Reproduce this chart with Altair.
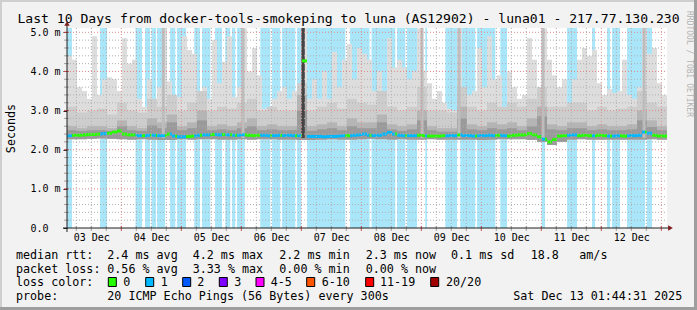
import altair as alt
import pandas as pd

# ---------------- values ----------------
# x: hours after 03 Dec 00:00 (plot spans 240 h); y: milliseconds
x_start, x_end = 2.28, 242.28
y_top = 5.11

day_labels = ["03 Dec", "04 Dec", "05 Dec", "06 Dec", "07 Dec",
              "08 Dec", "09 Dec", "10 Dec", "11 Dec", "12 Dec"]

# 2-hour bins (120)
smoke_top = [
    4.4, 4.3, 3.6, 3.5, 3.3, 4.9, 3.4, 3.8, 3.85, 3.8,
    3.5, 4.85, 4.2, 4.3, 3.3, 3.1, 3.8, 3.15, 3.6, 5.1,
    3.75, 3.3, 3.35, 4.9, 4.55, 4.45, 3.35, 3.6, 3.3, 4.8,
    3.7, 4.25, 4.9, 3.35, 3.6, 5.1, 4.0, 4.6, 3.9, 3.05,
    3.1, 3.3, 3.5, 3.6, 3.3, 3.5, 3.4, 5.11, 3.3, 3.8,
    3.3, 4.0, 3.3, 4.5, 3.6, 4.3, 4.7, 3.8, 4.6, 4.45,
    4.3, 3.5, 4.0, 3.3, 4.85, 4.1, 4.3, 4.1, 3.8, 4.0,
    5.1, 4.0, 3.7, 3.3, 3.5, 3.2, 3.05, 3.0, 5.1, 3.5,
    3.4, 3.5, 4.6, 3.6, 4.9, 3.8, 3.9, 3.05, 4.0, 3.6,
    3.3, 3.4, 4.85, 4.3, 3.45, 5.1, 4.3, 3.9, 3.6, 3.8,
    3.0, 3.8, 4.3, 4.6, 4.4, 4.55, 3.7, 3.4, 3.55, 3.45,
    3.5, 4.3, 3.4, 3.3, 3.6, 5.1, 4.45, 4.6, 3.7, 3.4]
median_ms = [
    2.36, 2.37, 2.37, 2.38, 2.39, 2.39, 2.40, 2.41, 2.42, 2.45,
    2.48, 2.40, 2.38, 2.38, 2.36, 2.36, 2.37, 2.37, 2.36, 2.36,
    2.40, 2.35, 2.33, 2.33, 2.34, 2.35, 2.37, 2.38, 2.38, 2.39,
    2.38, 2.39, 2.38, 2.37, 2.37, 2.38, 2.37, 2.36, 2.37, 2.37,
    2.36, 2.36, 2.37, 2.36, 2.37, 2.36, 2.36, 4.27, 2.34, 2.34,
    2.34, 2.33, 2.34, 2.34, 2.35, 2.36, 2.36, 2.37, 2.38, 2.40,
    2.37, 2.36, 2.37, 2.40, 2.44, 2.40, 2.37, 2.36, 2.36, 2.36,
    2.37, 2.36, 2.35, 2.35, 2.35, 2.36, 2.36, 2.36, 2.38, 2.36,
    2.36, 2.35, 2.36, 2.36, 2.37, 2.36, 2.37, 2.36, 2.35, 2.37,
    2.38, 2.38, 2.41, 2.38, 2.33, 2.27, 2.20, 2.26, 2.35, 2.36,
    2.37, 2.38, 2.36, 2.37, 2.36, 2.36, 2.37, 2.36, 2.35, 2.35,
    2.36, 2.35, 2.36, 2.36, 2.37, 2.45, 2.42, 2.37, 2.35, 2.35]

# 4-hour bins (60)
smoke_mid = [
    3.1, 2.95, 3.0, 3.05, 2.9, 3.2, 3.0, 2.95, 3.3, 3.1,
    3.4, 3.0, 3.2, 3.5, 3.0, 3.1, 3.05, 3.2, 3.3, 3.0,
    3.1, 3.0, 3.0, 3.7, 3.0, 3.1, 3.2, 3.05, 3.3, 3.2,
    3.15, 3.5, 3.1, 3.0, 3.1, 3.6, 3.0, 3.0, 2.95, 3.6,
    3.1, 3.0, 3.2, 3.1, 3.2, 3.1, 3.3, 3.6, 3.1, 3.1,
    3.2, 3.2, 3.0, 3.1, 3.0, 3.05, 3.1, 3.5, 3.2, 3.1]
smoke_dark = [
    2.6, 2.55, 2.6, 2.6, 2.55, 2.75, 2.6, 2.55, 2.8, 2.7,
    2.9, 2.6, 2.7, 3.0, 2.6, 2.65, 2.6, 2.7, 2.8, 2.6,
    2.65, 2.6, 2.6, 3.4, 2.6, 2.65, 2.7, 2.6, 2.8, 2.7,
    2.7, 2.9, 2.65, 2.6, 2.65, 3.0, 2.6, 2.55, 2.55, 3.1,
    2.65, 2.6, 2.7, 2.65, 2.7, 2.6, 2.8, 3.1, 2.65, 2.6,
    2.7, 2.7, 2.6, 2.65, 2.6, 2.6, 2.65, 3.0, 2.75, 2.6]
smoke_core = [
    2.5, 2.48, 2.5, 2.5, 2.48, 2.6, 2.5, 2.48, 2.62, 2.55,
    2.7, 2.5, 2.55, 2.75, 2.5, 2.52, 2.5, 2.55, 2.6, 2.5,
    2.52, 2.5, 2.5, 3.0, 2.48, 2.52, 2.55, 2.5, 2.6, 2.55,
    2.55, 2.7, 2.52, 2.48, 2.52, 2.75, 2.5, 2.46, 2.46, 2.8,
    2.52, 2.5, 2.55, 2.52, 2.55, 2.5, 2.6, 2.85, 2.52, 2.5,
    2.55, 2.55, 2.5, 2.52, 2.5, 2.5, 2.52, 2.75, 2.58, 2.5]
smoke_low = [
    2.27, 2.27, 2.28, 2.29, 2.28, 2.27, 2.26, 2.27, 2.26, 2.25,
    2.25, 2.27, 2.26, 2.27, 2.27, 2.26, 2.26, 2.27, 2.26, 2.27,
    2.27, 2.26, 2.26, 2.25, 2.25, 2.26, 2.27, 2.26, 2.26, 2.27,
    2.28, 2.27, 2.26, 2.27, 2.26, 2.26, 2.27, 2.26, 2.26, 2.26,
    2.26, 2.25, 2.26, 2.27, 2.27, 2.27, 2.25, 2.20, 2.12, 2.20,
    2.26, 2.27, 2.26, 2.26, 2.26, 2.26, 2.26, 2.26, 2.27, 2.26]

# periods with 1/20 packet loss (hours)
loss_start = [2.28, 15.5, 29.7, 33.5, 36.1, 38.3, 43.5, 46.3, 53.2, 56.3,
              61.5, 65.6, 68.3, 70.3, 79.6, 84.3, 88.3, 94.3, 98.3, 115.5,
              124.1, 134.3, 138.3, 145.6, 153.6, 159.6, 166.3, 175.6, 192.1,
              202.3, 212.3, 218.3, 220.3, 226.3, 234.2]
loss_end = [4.3, 18.3, 32.3, 35.5, 37.9, 41.5, 45.6, 49.9, 55.5, 59.6,
            64.3, 67.6, 69.6, 73.4, 83.6, 87.6, 93.6, 96.0, 113.6, 123.3,
            133.6, 137.6, 142.3, 146.3, 158.3, 165.6, 173.6, 178.3, 193.5,
            206.3, 213.5, 219.5, 223.5, 233.5, 236.3]

# dense smoke columns (hours, top in ms, 1 = very dark)
spike_start = [96.0, 40.2, 72.1, 143.7, 158.5, 192.1, 232.5]
spike_end = [97.4, 41.4, 73.3, 144.9, 159.7, 193.3, 233.7]
spike_top = [5.11, 5.11, 5.11, 5.11, 5.11, 5.11, 5.11]
spike_dark = [1, 0, 0, 0, 0, 0, 0]

legend_rows = [
    ["median rtt:", "2.4 ms avg", "4.2 ms max", "2.2 ms min", "2.3 ms now", "0.1 ms sd", "18.8", "am/s"],
    ["packet loss:", "0.56 % avg", "3.33 % max", "0.00 % min", "0.00 % now"],
    ["loss color:", "0", "1", "2", "3", "4-5", "6-10", "11-19", "20/20"],
    ["probe:", "20 ICMP Echo Pings (56 Bytes) every 300s", "Sat Dec 13 01:44:31 2025"],
]
loss_colors = ["#26ff00", "#00b8ff", "#0059ff", "#7e00ff", "#ff00ff", "#ff5500", "#ff0000", "#a10000"]
title_text = "Last 10 Days from docker-tools-smokeping to luna (AS12902) - luna01 - 217.77.130.230"

# ---------------- layout ----------------
L, T, W, H = 67, 28, 600, 200
FONT = "DejaVu Sans Mono"
legend_x = [
    [16, 107.3, 192.7, 279.3, 365.7, 451, 530.7, 579.3],
    [16, 107.3, 192.7, 279.3, 365.7],
    [16, 123.3, 160.7, 197.3, 234.3, 270.7, 321.7, 380, 446],
    [16, 107.3, 513.3],
]
legend_y = [254.5, 268.5, 282, 296]
box_x = [108.3, 145.7, 182.7, 219.3, 256, 306.7, 365.7, 430.7]

xs = alt.Scale(domain=[x_start, x_end], nice=False, zero=False)
ys = alt.Scale(domain=[0, y_top], nice=False, zero=False)
one = pd.DataFrame({"a": [0]})

# ---------------- tables ----------------
bins2 = pd.DataFrame({
    "t0": [x_start + 2 * i for i in range(len(smoke_top))],
    "t1": [x_start + 2 * i + 2 for i in range(len(smoke_top))],
    "top": smoke_top,
    "low": [smoke_low[i // 2] for i in range(len(smoke_top))],
})
bins4 = pd.DataFrame({
    "t0": [x_start + 4 * i for i in range(len(smoke_mid))],
    "t1": [x_start + 4 * i + 4 for i in range(len(smoke_mid))],
    "mid": smoke_mid, "dark": smoke_dark, "core": smoke_core, "low": smoke_low,
})
bands = pd.DataFrame({"s": loss_start, "e": loss_end})
spikes = pd.DataFrame({"s": spike_start, "e": spike_end, "top": spike_top,
                       "dark": [str(v) for v in spike_dark],
                       "low": [2.3] * len(spike_start)})

segs = []
for i, m in enumerate(median_ms):
    a, b = x_start + 2 * i, x_start + 2 * i + 2
    cuts = sorted({a, b} | {v for s, e in zip(loss_start, loss_end) for v in (s, e) if a < v < b})
    for c0, c1 in zip(cuts[:-1], cuts[1:]):
        c = (c0 + c1) / 2
        lossy = any(s <= c < e for s, e in zip(loss_start, loss_end))
        segs.append({"t0": c0, "t1": c1, "ms": m, "loss": "1" if lossy else "0"})
segs = pd.DataFrame(segs)

vgrid = pd.DataFrame({"h": [6 * k for k in range(1, 41)]})
vgrid["major"] = vgrid["h"] % 24 == 0
hgrid = pd.DataFrame({"v": [round(0.2 * k, 1) for k in range(1, 26)]})
hgrid["major"] = [k % 5 == 0 for k in range(1, 26)]

texts = []
for r, row in enumerate(legend_rows):
    for j, s in enumerate(row):
        texts.append({"px": legend_x[r][j] - L, "py": legend_y[r] - T, "txt": s})
texts = pd.DataFrame(texts)
boxes = pd.DataFrame({"x0": [x - L for x in box_x], "x1": [x + 8 - L for x in box_x],
                      "c": loss_colors})

label_expr = "[" + ",".join("'%s'" % d for d in day_labels) + "][floor(datum.value / 24)]"

# ---------------- layers ----------------
band_layer = alt.Chart(bands).mark_rect(color="#aae6fa").encode(
    x=alt.X("s:Q", scale=xs, axis=None), x2="e:Q",
    y=alt.value(0), y2=alt.value(H))

def smoke(df, field, color):
    return alt.Chart(df).mark_rect(color=color).encode(
        x=alt.X("t0:Q", scale=xs, axis=None), x2="t1:Q",
        y=alt.Y("low:Q", scale=ys, axis=None), y2=f"{field}:Q")

top_layer = alt.Chart(bins2).mark_rect(color="#dddddd").encode(
    x=alt.X("t0:Q", scale=xs, axis=alt.Axis(
        values=[12 + 24 * k for k in range(10)], labelExpr=label_expr, title=None,
        grid=False, domain=False, ticks=False, labelPadding=4, labelFont=FONT,
        labelFontSize=10, labelColor="#000000")),
    x2="t1:Q",
    y=alt.Y("low:Q", scale=ys, axis=alt.Axis(
        values=[0, 1, 2, 3, 4, 5], labelExpr="datum.value == 0 ? '0.0' : format(datum.value, '.1f') + ' m'",
        labelAlign="left", labelBaseline="middle", labelPadding=33, tickSize=4,
        tickColor="#1f1f1f", grid=False, domain=False, labelFont=FONT, labelFontSize=10,
        labelColor="#000000", title="Seconds", titleFont=FONT, titleFontSize=11.7,
        titleFontWeight="normal", titleColor="#000000", titleAngle=270,
        titleX=10 - L, titleY=H / 2, titleAlign="center", titleBaseline="middle")),
    y2="top:Q")

mid_layer = smoke(bins4, "mid", "#cdcdcd")
dark_layer = smoke(bins4, "dark", "#b5b5b5")
core_layer = smoke(bins4, "core", "#9a9a9a")

spike_layer = alt.Chart(spikes).mark_rect().encode(
    x=alt.X("s:Q", scale=xs, axis=None), x2="e:Q",
    y=alt.Y("low:Q", scale=ys, axis=None), y2="top:Q",
    color=alt.Color("dark:N", scale=alt.Scale(domain=["0", "1"], range=["#bdbdbd", "#444444"]), legend=None))

median_layer = alt.Chart(segs).mark_rule(strokeWidth=3).encode(
    x=alt.X("t0:Q", scale=xs, axis=None), x2="t1:Q",
    y=alt.Y("ms:Q", scale=ys, axis=None),
    color=alt.Color("loss:N", scale=alt.Scale(domain=["0", "1"], range=loss_colors[:2]), legend=None))

vgrid_layer = alt.Chart(vgrid).mark_rule(strokeDash=[1, 2], strokeWidth=1).encode(
    x=alt.X("h:Q", scale=xs, axis=None), y=alt.value(0), y2=alt.value(H),
    color=alt.condition("datum.major", alt.value("#e08a8a"), alt.value("#b0b0b0")))
hgrid_layer = alt.Chart(hgrid).mark_rule(strokeDash=[1, 2], strokeWidth=1).encode(
    y=alt.Y("v:Q", scale=ys, axis=None), x=alt.value(0), x2=alt.value(W),
    color=alt.condition("datum.major", alt.value("#e08a8a"), alt.value("#b0b0b0")))
vtick_layer = alt.Chart(vgrid).mark_rule(strokeWidth=1).encode(
    x=alt.X("h:Q", scale=xs, axis=None), y=alt.value(H - 2), y2=alt.value(H + 3),
    color=alt.condition("datum.major", alt.value("#d05050"), alt.value("#a0a0a0")))
htick_layer = alt.Chart(hgrid).mark_rule(strokeWidth=1).encode(
    y=alt.Y("v:Q", scale=ys, axis=None), x=alt.value(-3), x2=alt.value(2),
    color=alt.condition("datum.major", alt.value("#d05050"), alt.value("#a0a0a0")))

xaxis_line = alt.Chart(one).mark_rule(color="#1f1f1f", strokeWidth=1).encode(
    x=alt.value(63 - L), x2=alt.value(670 - L), y=alt.value(H))
yaxis_line = alt.Chart(one).mark_rule(color="#1f1f1f", strokeWidth=1).encode(
    x=alt.value(0), y=alt.value(232 - T), y2=alt.value(25 - T))
arrow_up = alt.Chart(one).mark_point(shape="triangle-up", filled=True, size=30, color="#801f1f", opacity=1).encode(
    x=alt.value(0), y=alt.value(23.5 - T))
arrow_right = alt.Chart(one).mark_point(shape="triangle-right", filled=True, size=30, color="#801f1f", opacity=1).encode(
    x=alt.value(670.5 - L), y=alt.value(H))

def frame(x0, x1, y0, y1, c):
    return alt.Chart(one).mark_rect(color=c).encode(
        x=alt.value(x0 - L), x2=alt.value(x1 - L), y=alt.value(y0 - T), y2=alt.value(y1 - T))

frames = [frame(0, 697, 0, 2, "#cfcfcf"), frame(0, 2, 0, 310, "#cfcfcf"),
          frame(694, 697, 0, 310, "#9e9e9e"), frame(0, 697, 307, 310, "#9e9e9e")]

title_layer = alt.Chart(one).mark_text(font=FONT, fontSize=13.1, color="#000000", align="center",
                                       baseline="middle", text=title_text).encode(
    x=alt.value(348.5 - L), y=alt.value(19 - T))
watermark = alt.Chart(one).mark_text(font=FONT, fontSize=8, color="#b4b4b4", align="left",
                                     baseline="middle", angle=90, text="RRDTOOL / TOBI OETIKER").encode(
    x=alt.value(689 - L), y=alt.value(11 - T))

text_layer = alt.Chart(texts).mark_text(font=FONT, fontSize=11.7, color="#000000",
                                        align="left", baseline="middle").encode(
    x=alt.X("px:Q", scale=None, axis=None), y=alt.Y("py:Q", scale=None, axis=None), text="txt:N")
box_layer = alt.Chart(boxes).mark_rect(stroke="#000000", strokeWidth=1).encode(
    x=alt.X("x0:Q", scale=None, axis=None), x2="x1:Q",
    y=alt.value(277.5 - T), y2=alt.value(286.5 - T),
    color=alt.Color("c:N", scale=None, legend=None))

chart = alt.layer(
    band_layer, top_layer, mid_layer, dark_layer, core_layer, spike_layer, median_layer,
    vgrid_layer, hgrid_layer, vtick_layer, htick_layer, xaxis_line, yaxis_line,
    arrow_up, arrow_right, *frames, title_layer, watermark, text_layer, box_layer,
).resolve_scale(x="independent", y="independent", color="independent").properties(
    width=W, height=H, autosize="none",
    padding={"left": L, "top": T, "right": 697 - L - W, "bottom": 310 - T - H},
    background="#f2f2f2",
).configure_view(fill="#ffffff", stroke=None)

chart.save("out.html", embed_options={"renderer": "svg", "actions": False})
